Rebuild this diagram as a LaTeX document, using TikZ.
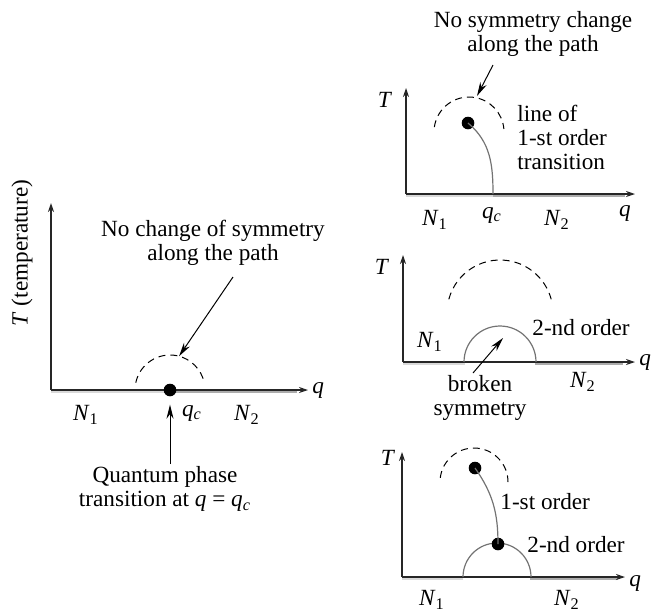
\documentclass[tikz,border=0pt]{standalone}
\usepackage{fontspec}
\setmainfont{Liberation Serif}
\usetikzlibrary{arrows.meta, positioning, calc}
\newcommand{\vr}[1]{\textit{#1}}
\newcommand{\vsub}[2]{\textit{#1}\textsubscript{#2}}

\begin{document}
\begin{tikzpicture}[
  x=0.5pt, y=0.5pt,
  font=\fontsize{11.6}{12}\selectfont,
  axis/.style={-{Stealth[length=4.5pt, width=3pt]}, black!85, line width=0.6pt},
  lowband/.style={line width=1.7pt, gray!30},
  highband/.style={line width=1.7pt, gray!65},
  path1/.style={line width=0.5pt, dash pattern=on 3.5pt off 2.5pt},
  order/.style={black!55, line width=0.6pt},
  dot/.style={circle, fill=black, inner sep=0pt, minimum size=6.3pt},
  lbl/.style={align=center, inner sep=1pt},
  arr/.style={-{Stealth[length=7pt, width=3.5pt]}, line width=0.5pt}
]
\useasboundingbox (0,0) rectangle (658,-612);

% ---- left: quantum phase transition
\draw[lowband]  (51,-391) -- (170,-391);
\draw[highband] (170,-391) -- (297,-391);
\coordinate (o0) at (51,-390);
\coordinate (t0) at (51,-203);
\coordinate (e0) at (308,-390);
\draw[axis] (o0) -- (t0);
\draw[axis] (o0) -- (e0);
\node[right=1pt of e0, inner sep=1pt] (q0) {\vr{q}};
\node[rotate=90, lbl] (T0) at (22,-253) {\vr{T} (temperature)};
\node[dot] (qc0) at (170,-390) {};
\draw[path1] ([shift={(168:35)}]qc0.center) arc[start angle=168, end angle=12, radius=35];
\node[lbl] (nosym0) at (213,-243) {No change of symmetry\\along the path};
\coordinate (s0) at (233,-277);
\coordinate (a0) at ($(qc0.center)+(75:35)$);
\draw[arr] (s0) -- (a0);
\node[lbl] (Na0) at (86,-415) {\vsub{N}{1}};
\node[lbl] (qcl0) at (192,-413) {\vsub{q}{\textit{c}}};
\node[lbl] (Nb0) at (247,-415) {\vsub{N}{2}};
\node[lbl] (qpt) at (165,-489) {Quantum phase\\transition at \vr{q} = \vsub{q}{\textit{c}}};
\draw[arr, shorten >=4pt] (qpt.north -| qc0) -- (qc0.south);

% ---- top right: line of 1-st order transition
\draw[lowband]  (406,-195) -- (493,-195);
\draw[highband] (493,-195) -- (625,-195);
\coordinate (o1) at (406,-194);
\coordinate (t1) at (406,-88);
\coordinate (e1) at (635,-194);
\draw[axis] (o1) -- (t1);
\draw[axis] (o1) -- (e1);
\node[lbl] (T1) at (385,-100) {\vr{T}};
\node[lbl] (q1) at (625,-213) {\vr{q}};
\node[dot] (d1) at (468,-123) {};
\draw[path1] ($(469,-132)+(172:35)$) arc[start angle=172, end angle=5, radius=35];
\coordinate (c1) at (493,-194);
\draw[order] (d1.center) to[out=-40, in=90] (c1);
\node[lbl] (nosym1) at (533,-34) {No symmetry change\\along the path};
\coordinate (s1) at (493,-65);
\coordinate (a1) at (477,-96);
\draw[arr] (s1) -- (a1);
\node[lbl, align=left, anchor=west] (line1) at (515,-137) {line of\\1-st order\\transition};
\node[lbl] (Na1) at (435,-220) {\vsub{N}{1}};
\node[lbl] (qcl1) at (492,-215) {\vsub{q}{\textit{c}}};
\node[lbl] (Nb1) at (557,-220) {\vsub{N}{2}};

% ---- middle right: 2-nd order, broken symmetry
\draw[lowband]  (403,-363) -- (465,-363);
\draw[highband] (535,-363) -- (623,-363);
\coordinate (o2) at (403,-362);
\coordinate (t2) at (403,-255);
\coordinate (e2) at (635,-362);
\draw[axis] (o2) -- (t2);
\draw[axis] (o2) -- (e2);
\node[lbl] (T2) at (382,-267) {\vr{T}};
\node[right=1pt of e2, inner sep=1pt] (q2) {\vr{q}};
\draw[path1] ($(500,-313)+(165:53)$) arc[start angle=165, end angle=15, radius=53];
\draw[order] (464,-362) arc[start angle=180, end angle=0, radius=36];
\node[lbl, anchor=west] (ord2) at (530,-328) {2-nd order};
\node[lbl] (Na2) at (430,-342) {\vsub{N}{1}};
\node[lbl] (Nb2) at (583,-382) {\vsub{N}{2}};
\node[lbl] (brk) at (480,-398) {broken\\symmetry};
\coordinate (s2) at (473,-373);
\coordinate (a2) at (503,-338);
\draw[arr] (s2) -- (a2);

% ---- bottom right: 1-st and 2-nd order lines
\draw[lowband]  (402,-578) -- (463,-578);
\draw[highband] (530,-578) -- (618,-578);
\coordinate (o3) at (402,-577);
\coordinate (t3) at (402,-452);
\coordinate (e3) at (625,-577);
\draw[axis] (o3) -- (t3);
\draw[axis] (o3) -- (e3);
\node[lbl] (T3) at (388,-458) {\vr{T}};
\node[right=1pt of e3, inner sep=1pt, yshift=-3pt] (q3) {\vr{q}};
\draw[path1] ($(474,-482)+(173:34)$) arc[start angle=173, end angle=0, radius=34];
\draw[order] (463,-577) arc[start angle=180, end angle=0, radius=34];
\node[dot] (d3) at (475,-468) {};
\node[dot] (d4) at (498,-544) {};
\draw[order] (d3.center) to[out=-55, in=90] (d4.center);
\node[lbl, anchor=west] (ord3a) at (498,-502) {1-st order};
\node[lbl, anchor=west] (ord3b) at (525,-545) {2-nd order};
\node[lbl] (Na3) at (432,-600) {\vsub{N}{1}};
\node[lbl] (Nb3) at (567,-600) {\vsub{N}{2}};
\end{tikzpicture}
\end{document}
